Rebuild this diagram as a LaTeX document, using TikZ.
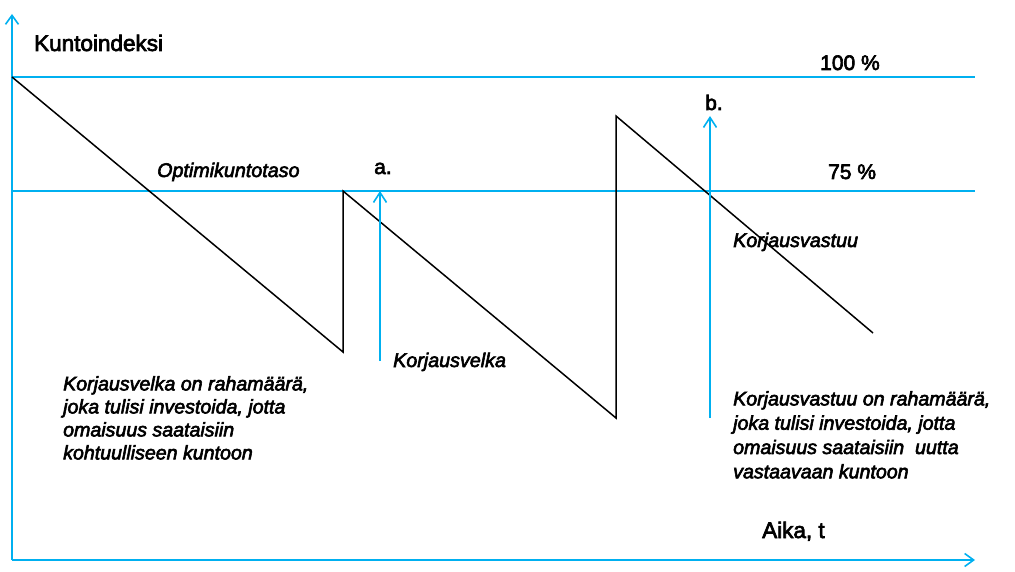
\documentclass[tikz,border=0pt]{standalone}
\usepackage{fontspec}
\setmainfont{Liberation Sans}[FakeBold=3,BoldFont=*,BoldItalicFont=*/I]
\usetikzlibrary{arrows.meta}
\definecolor{skyblue}{HTML}{00B0F0}
\begin{document}
\begin{tikzpicture}[x=1pt,y=-1pt,
  axis/.style={draw=skyblue,line width=2pt,-{Straight Barb[length=9pt,width=13pt,line width=1.6pt]}},
  level/.style={draw=skyblue,line width=1.8pt},
  levelthin/.style={draw=skyblue,line width=1.5pt},
  saw/.style={draw=black,line width=1.5pt,line join=miter},
  marker/.style={draw=skyblue,line width=2pt,-{Straight Barb[length=10pt,width=13pt,line width=1.6pt]}},
  big/.style={inner sep=0pt,anchor=base west,font=\fontsize{22.5}{27}\selectfont\bfseries},
  mid/.style={inner sep=0pt,anchor=base west,font=\fontsize{21}{25}\selectfont\bfseries},
  lbl/.style={inner sep=0pt,anchor=base west,font=\fontsize{19.7}{23}\selectfont\bfseries\itshape},
  para/.style={inner sep=0pt,anchor=north west,align=left,font=\fontsize{19.6}{#1}\selectfont\bfseries\itshape},
]
\useasboundingbox (0,0) rectangle (1015,572);
% axes
\coordinate (O) at (12,560);
\coordinate (ytop) at (12,14);
\coordinate (xend) at (975,560);
\draw[axis] (O) -- (ytop);
\draw[axis] (O) -- (xend);
% levels
\coordinate (h100a) at (12,77);
\coordinate (h100b) at (975,77);
\coordinate (h75a) at (12,191);
\coordinate (h75b) at (975,191);
\draw[level] (h100a) -- (h100b);
\draw[levelthin] (h75a) -- (h75b);
% sawtooth
\coordinate (s0) at (12,77);
\coordinate (s1) at (343,352);
\coordinate (s2) at (343,191);
\coordinate (s3) at (616,418);
\coordinate (s4) at (616,116);
\coordinate (s5) at (873,333);
\draw[saw] (s0) -- (s1) -- (s2) -- (s3) -- (s4) -- (s5);
% markers
\coordinate (a0) at (380,361);
\coordinate (a1) at (380,191);
\coordinate (b0) at (710,418);
\coordinate (b1) at (710,116);
\draw[marker] (a0) -- (a1);
\draw[marker] (b0) -- (b1);
% texts
\node[big] (kunto) at (34,51) {Kuntoindeksi};
\node[mid] (p100) at (820,70) {100 \%};
\node[mid] (p75) at (828,179) {75 \%};
\node[mid] (lb) at (705,110) {b.};
\node[mid] (la) at (374,174) {a.};
\node[lbl] (opt) at (157,177) {Optimikuntotaso};
\node[lbl] (kv) at (393,367) {Korjausvelka};
\node[lbl] (kvs) at (733,247) {Korjausvastuu};
\node[big] (aika) at (762,538) {Aika, t};
\node[para=23] (pleft) at (63,376) {Korjausvelka on rahamäärä,\\joka tulisi investoida, jotta\\omaisuus saataisiin\\kohtuulliseen kuntoon};
\node[para=24.3] (pright) at (733,391) {Korjausvastuu on rahamäärä,\\joka tulisi investoida, jotta\\omaisuus saataisiin \ uutta\\vastaavaan kuntoon};
\end{tikzpicture}
\end{document}
